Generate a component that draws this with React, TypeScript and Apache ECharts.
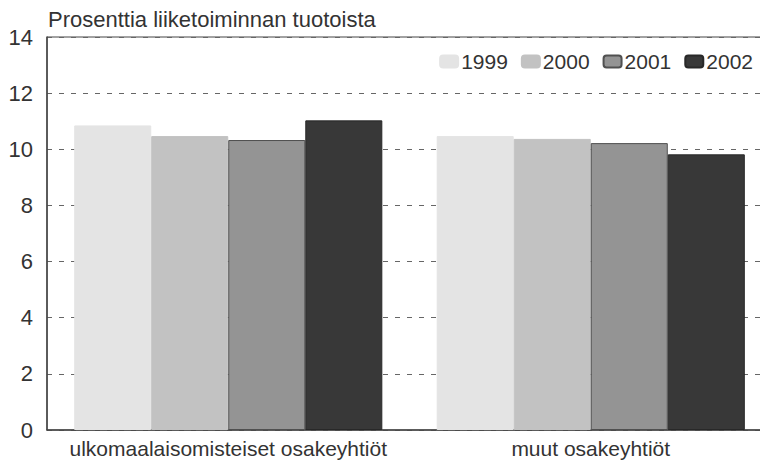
import React, { useEffect, useRef } from "react";
import * as echarts from "echarts";

const categories = ["ulkomaalaisomisteiset osakeyhtiöt", "muut osakeyhtiöt"];
const years = ["1999", "2000", "2001", "2002"];
const v1999 = [10.85, 10.47];
const v2000 = [10.47, 10.37];
const v2001 = [10.33, 10.22];
const v2002 = [11.03, 9.82];
const yTicks = [0, 14, 2];
const title = "Prosenttia liiketoiminnan tuotoista";

const seriesValues = [v1999, v2000, v2001, v2002];
const fills = ["#e4e4e4", "#c2c2c2", "#949494", "#383838"];
const borders = ["#e4e4e4", "#c2c2c2", "#505050", "#282828"];

export default function App() {
  const ref = useRef<HTMLDivElement>(null);
  useEffect(() => {
    if (!ref.current) return;
    const chart = echarts.init(ref.current, undefined, { renderer: "svg" });
    const font = "Liberation Sans, Arial, sans-serif";
    chart.setOption({
      animation: false,
      backgroundColor: "#ffffff",
      textStyle: { fontFamily: font },
      title: {
        text: title,
        left: 43,
        top: 3,
        textStyle: { fontSize: 22, fontWeight: "normal", color: "#333", fontFamily: font },
      },
      legend: {
        right: 2,
        top: 46,
        itemWidth: 18,
        itemHeight: 12,
        itemGap: 13,
        textStyle: { fontSize: 21, color: "#333", fontFamily: font, padding: [0, 0, 0, -2] },
        data: years,
      },
      grid: {
        left: 47,
        right: -12,
        top: 37,
        bottom: 32,
        show: true,
        borderColor: "#444",
        borderWidth: 1,
        outerBoundsMode: "none",
        containLabel: false,
      },
      xAxis: {
        type: "category",
        data: categories,
        axisLine: { lineStyle: { color: "#444", width: 1.5 } },
        axisTick: { show: false },
        axisLabel: { fontSize: 21, color: "#333", margin: 8, interval: 0, fontFamily: font },
      },
      yAxis: {
        type: "value",
        min: yTicks[0],
        max: yTicks[1],
        interval: yTicks[2],
        axisLine: { show: true, lineStyle: { color: "#444", width: 1.5 } },
        axisTick: { show: false },
        axisLabel: { fontSize: 22, color: "#333", margin: 14, fontFamily: font },
        splitLine: { lineStyle: { type: [5, 7], color: "#666", width: 1 } },
      },
      series: years.map((y, i) => ({
        name: y,
        type: "bar",
        data: seriesValues[i],
        barGap: "0%",
        barCategoryGap: "15%",
        itemStyle: { color: fills[i], borderColor: borders[i], borderWidth: 1 },
      })),
    });
    return () => chart.dispose();
  }, []);
  return <div ref={ref} style={{ width: 760, height: 462, position: "absolute", left: 0, top: 0 }} />;
}
